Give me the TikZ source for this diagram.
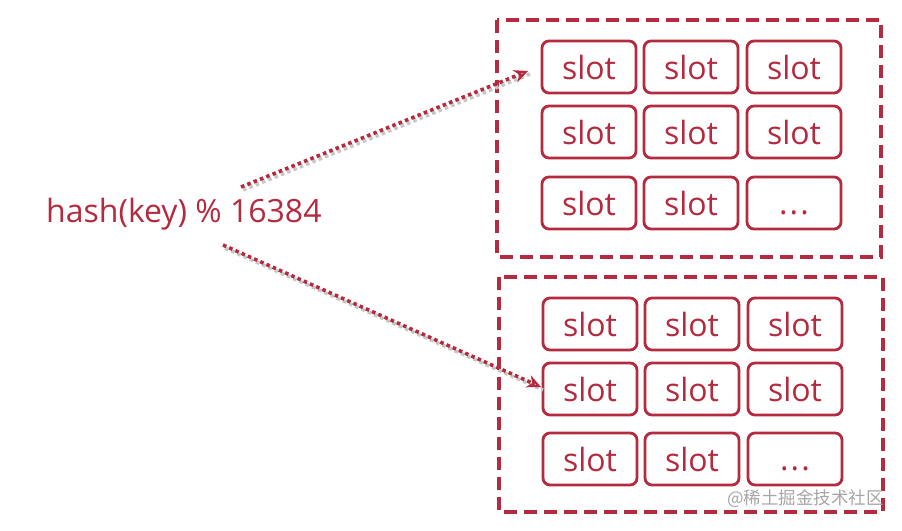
\documentclass[tikz,border=0pt]{standalone}
\usepackage{fontspec}
\setmainfont{Open Sans}
\newfontfamily\cjk{Noto Sans CJK SC}
\usetikzlibrary{arrows.meta}
\definecolor{rd}{RGB}{180,42,62}
\tikzset{
  slotbox/.style={draw=rd, line width=2.8pt, rounded corners=7pt, minimum width=94pt, minimum height=52pt, inner sep=0pt, text=rd, font=\fontsize{32}{32}\selectfont},
  groupbox/.style={draw=rd, line width=3.6pt, dash pattern=on 13pt off 7pt},
  dotarrow/.style={draw=rd, line width=3.6pt, dash pattern=on 3.6pt off 3.2pt, -{Stealth[length=14pt,width=13pt,open,line width=2.2pt]}},
  dotshadow/.style={draw=black!22, line width=3.6pt, dash pattern=on 3.6pt off 3.2pt}
}
\begin{document}
\begin{tikzpicture}[x=1pt,y=-1pt]
\useasboundingbox (0,0) rectangle (902,530);
% groups
\draw[groupbox] (497,20) rectangle (881,257);
\draw[groupbox] (499,277) rectangle (883,512);
% top slots
\foreach \c/\x in {1/589,2/691,3/794}{
  \foreach \r/\y in {1/67,2/132}{
    \node[slotbox] (a\r\c) at (\x,\y) {slot};
  }
}
\node[slotbox] (a31) at (589,203) {slot};
\node[slotbox] (a32) at (691,203) {slot};
\node[slotbox] (a33) at (794,203) {\vphantom{slot}.\kern2pt.\kern2pt.};
% bottom slots
\foreach \c/\x in {1/590,2/692,3/795}{
  \foreach \r/\y in {1/324,2/389}{
    \node[slotbox] (b\r\c) at (\x,\y) {slot};
  }
}
\node[slotbox] (b31) at (590,459) {slot};
\node[slotbox] (b32) at (692,459) {slot};
\node[slotbox] (b33) at (795,459) {\vphantom{slot}.\kern2pt.\kern2pt.};
% label
\node[text=rd, font=\fontsize{32}{32}\selectfont, anchor=west, inner sep=0pt] (hk) at (46,214) {hash(key) \% 16384};
\coordinate (s1) at (241,187);
\coordinate (e1) at (528,71);
\coordinate (s2) at (223,245);
\coordinate (e2) at (541,387);
\draw[dotshadow] ([shift={(2,3)}]s1) -- ([shift={(2,3)}]e1);
\draw[dotshadow] ([shift={(2,3)}]s2) -- ([shift={(2,3)}]e2);
\draw[dotarrow] (s1) -- (e1);
\draw[dotarrow] (s2) -- (e2);
% watermark
\node[text=black!35, font=\cjk\fontsize{17.5}{17.5}\selectfont, anchor=east, inner sep=0pt] (wm) at (884,499) {@稀土掘金技术社区};
\end{tikzpicture}
\end{document}
